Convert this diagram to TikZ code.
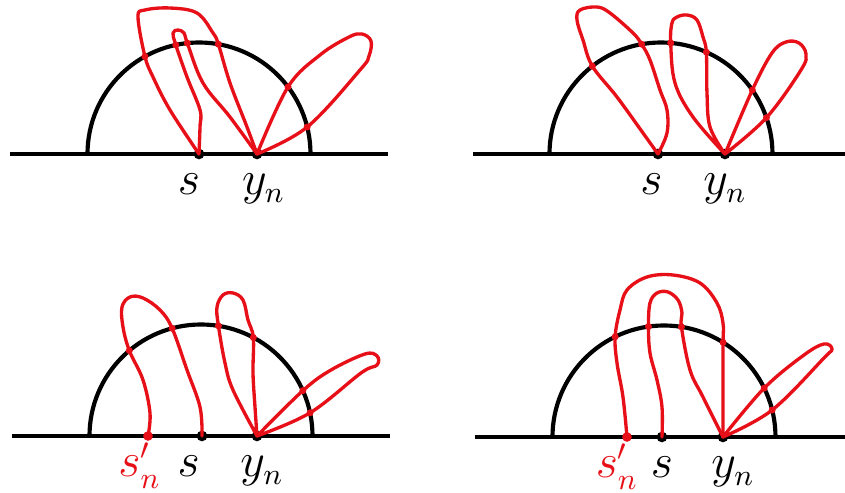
\documentclass[tikz,border=0pt]{standalone}
\usepackage{amsmath}
\usepackage{tikz}
\usetikzlibrary{positioning}
\definecolor{LoopRed}{RGB}{232,16,24}
\tikzset{
  axisline/.style={line width=1.25pt,draw=black},
  halfcirc/.style={line width=1.25pt,draw=black},
  redloop/.style={line width=1pt,draw=LoopRed,line join=round,line cap=round},
  ptnode/.style={circle,fill=black,inner sep=0pt,minimum size=3.2pt},
  redpt/.style={circle,fill=LoopRed,inner sep=0pt,minimum size=2.9pt},
  crossdot/.style={fill=LoopRed},
  ptlabel/.style={font=\fontsize{13.5}{16}\selectfont,anchor=base,inner sep=0pt}
}

\begin{document}
\begin{tikzpicture}[x=0.3pt,y=0.3pt]
\useasboundingbox (0,0) rectangle (845,493);

\begin{scope}[shift={(199,339)}]
\draw[axisline] (-189,0) -- (189,0);
\draw[halfcirc] (111.5,0) arc[start angle=0,end angle=180,radius=111.5];
\node[ptnode] (s) at (0,0) {};
\node[ptnode] (yn) at (58,0) {};
\draw[redloop] plot[smooth,tension=.6] coordinates {(s) (-29,44) (-46,77) (119:111.5) (-61,137) (-54,144) (-29,146) (-2,141) (14,121) (80:111.5) (31,71) (48,27) (yn)};
\draw[redloop] plot[smooth,tension=.6] coordinates {(s) (1,27) (1,44) (-12,77) (102:111.5) (-26,121) (-21,124) (-15,121) (96:111.5) (4,71) (31,37) (yn)};
\draw[redloop] plot[smooth,tension=.6] coordinates {(yn) (37:111.5) (121,99) (150,117) (163,120) (172,113) (170,98) (161,84) (14:111.5) (yn)};
\foreach \a in {119,80,102,96,37,14}
  \fill[crossdot] (\a:111.5) circle[radius=3.5];
\node[below=10.5pt of s,ptlabel,xshift=-3pt] {$s$};
\node[below=10.5pt of yn,ptlabel,xshift=2pt] {$y_n$};
\end{scope}

\begin{scope}[shift={(661,339)}]
\draw[axisline] (-188,0) -- (184,0);
\draw[halfcirc] (111.5,0) arc[start angle=0,end angle=180,radius=111.5];
\node[ptnode] (s) at (-3,0) {};
\node[ptnode] (yn) at (64,0) {};
\draw[redloop] plot[smooth,tension=.6] coordinates {(s) (6,21) (6,44) (-1,64) (-11,94) (100:111.5) (-28,121) (-51,141) (-64,147) (-81,144) (-84,134) (-78,114) (128:111.5) (-44,57) (-18,21) (s)};
\draw[redloop] plot[smooth,tension=.6] coordinates {(yn) (32,37) (14,71) (85:111.5) (11,131) (16,137) (26,139) (36,134) (42,117) (66:111.5) (46,61) (49,27) (yn)};
\draw[redloop] plot[smooth,tension=.6] coordinates {(yn) (35:111.5) (111,101) (125,112) (138,111) (145,100) (140,84) (19:111.5) (yn)};
\foreach \a in {100,128,85,66,35,19}
  \fill[crossdot] (\a:111.5) circle[radius=3.5];
\node[below=10.5pt of s,ptlabel,xshift=-2pt] {$s$};
\node[below=10.5pt of yn,ptlabel] {$y_n$};
\end{scope}

\begin{scope}[shift={(201,57)}]
\draw[axisline] (-189,0) -- (189,0);
\draw[halfcirc] (111.5,0) arc[start angle=0,end angle=180,radius=111.5];
\node[redpt] (sn) at (-53,0) {};
\node[ptnode] (s) at (1,0) {};
\node[ptnode] (yn) at (56,0) {};
\draw[redloop] plot[smooth,tension=.6] coordinates {(sn) (-51,23) (-58,56) (130:111.5) (-78,109) (-79,129) (-71,139) (-58,138) (-41,126) (105:111.5) (-14,66) (-1,29) (s)};
\draw[redloop] plot[smooth,tension=.6] coordinates {(yn) (32,46) (24,73) (81:111.5) (16,129) (22,141) (32,143) (42,136) (47,116) (62:111.5) (52,63) (54,29) (yn)};
\draw[redloop] plot[smooth,tension=.6] coordinates {(yn) (24:111.5) (130,66) (164,82) (176,80) (176,71) (160,63) (12:111.5) (yn)};
\foreach \a in {130,105,81,62,24,12}
  \fill[crossdot] (\a:111.5) circle[radius=3.5];
\node[below=10.5pt of sn,ptlabel,xshift=-2.5pt,text=LoopRed] {$s'_n$};
\node[below=10.5pt of s,ptlabel,xshift=-4pt] {$s$};
\node[below=10.5pt of yn,ptlabel,xshift=1.5pt] {$y_n$};
\end{scope}

\begin{scope}[shift={(664,56)}]
\draw[axisline] (-189,0) -- (181,0);
\draw[halfcirc] (111.5,0) arc[start angle=0,end angle=180,radius=111.5];
\node[redpt] (sn) at (-37,0) {};
\node[ptnode] (s) at (-2,0) {};
\node[ptnode] (yn) at (59,0) {};
\draw[redloop] plot[smooth,tension=.6] coordinates {(sn) (-41,40) (-47,74) (116:111.5) (-44,127) (-37,147) (-17,160) (9,162) (36,154) (53,134) (59,114) (58:111.5) (59,50) (yn)};
\draw[redloop] plot[smooth,tension=.6] coordinates {(s) (-2,30) (-7,57) (-14,84) (98:111.5) (-14,134) (-7,144) (4,145) (14,137) (18,124) (81:111.5) (26,67) (39,40) (yn)};
\draw[redloop] plot[smooth,tension=.6] coordinates {(yn) (26:111.5) (140,82) (160,93) (168,88) (160,79) (14:111.5) (yn)};
\foreach \a in {116,58,98,81,26,14}
  \fill[crossdot] (\a:111.5) circle[radius=3.5];
\node[below=10.5pt of sn,ptlabel,xshift=-3pt,text=LoopRed] {$s'_n$};
\node[below=10.5pt of s,ptlabel] {$s$};
\node[below=10.5pt of yn,ptlabel,xshift=3pt] {$y_n$};
\end{scope}
\end{tikzpicture}
\end{document}
